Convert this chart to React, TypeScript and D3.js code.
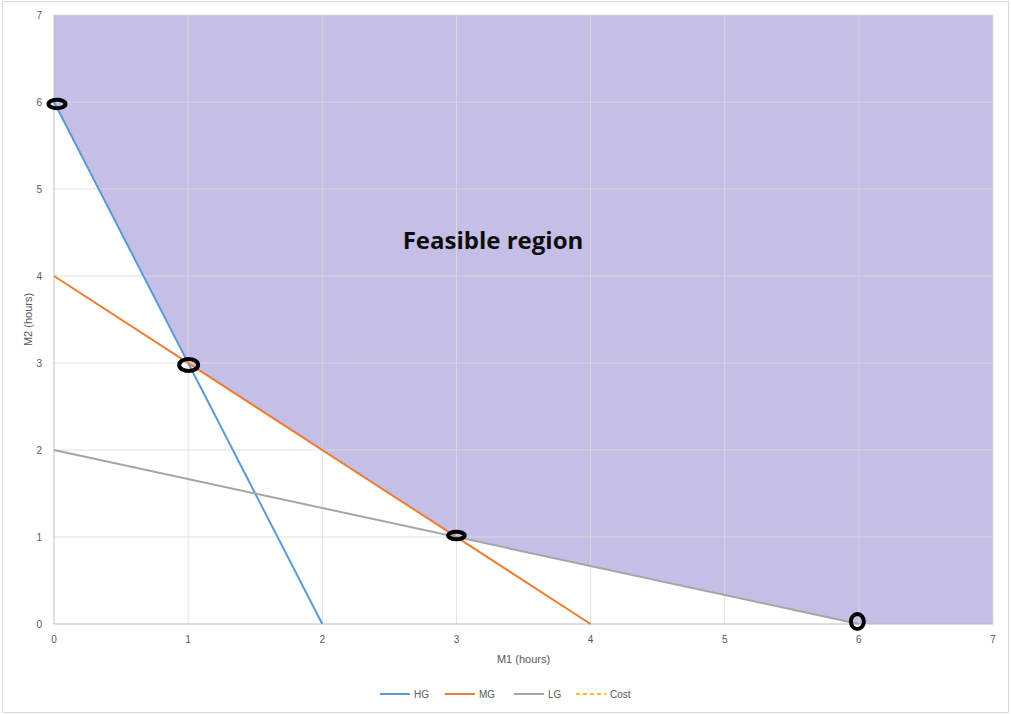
import React from "react";
import * as d3 from "d3";

// Constraint lines (M1 hours, M2 hours)
const hgLine: [number, number][] = [[0, 6], [2, 0]];
const mgLine: [number, number][] = [[0, 4], [4, 0]];
const lgLine: [number, number][] = [[0, 2], [6, 0]];
const costLine: [number, number][] = [];
// Boundary of the feasible region
const feasibleRegion: [number, number][] = [[0, 7], [0, 6], [1, 3], [3, 1], [6, 0], [7, 0], [7, 7]];
// Corner points of the feasible region
const cornerPoints: [number, number][] = [[0, 6], [1, 3], [3, 1], [6, 0]];
const xTicks = [0, 1, 2, 3, 4, 5, 6, 7];
const yTicks = [0, 1, 2, 3, 4, 5, 6, 7];

// Hand-drawn style marker shapes around each corner: [dx, dy, rx, ry]
const markerShapes: [number, number, number, number][] = [
  [3, 2, 8.5, 4.2],
  [0.5, 2, 9.5, 6],
  [0, -1.5, 8.3, 3.8],
  [-1.5, -2.5, 6.5, 7.5],
];

const series = [
  { name: "HG", data: hgLine, color: "#5b9bd5", dash: "" },
  { name: "MG", data: mgLine, color: "#ed7d31", dash: "" },
  { name: "LG", data: lgLine, color: "#a5a5a5", dash: "" },
  { name: "Cost", data: costLine, color: "#ffc000", dash: "4,3" },
];

export default function App() {
  const W = 1011, H = 714;
  const left = 54, right = 993, top = 15, bottom = 624;
  const x = d3.scaleLinear().domain([0, 7]).range([left, right]);
  const y = d3.scaleLinear().domain([0, 7]).range([bottom, top]);
  const line = d3.line<[number, number]>().x((d) => x(d[0])).y((d) => y(d[1]));
  const font = "'Liberation Sans', Arial, sans-serif";
  const legendX = [380, 445, 514, 576];

  return (
    <svg width={W} height={H} style={{ position: "absolute", left: 0, top: 0 }}>
      <rect x={0} y={0} width={W} height={H} fill="#fff" />
      <rect x={2.5} y={1.5} width={W - 5} height={H - 3} fill="none" stroke="#d9d9d9" />
      <path d={line(feasibleRegion) + "Z"} fill="#c5bee6" />
      {xTicks.slice(1).map((t) => (
        <line key={"gx" + t} x1={x(t)} x2={x(t)} y1={top} y2={bottom} stroke="#dcdcdc" strokeOpacity={0.85} />
      ))}
      {yTicks.slice(1).map((t) => (
        <line key={"gy" + t} x1={left} x2={right} y1={y(t)} y2={y(t)} stroke="#dcdcdc" strokeOpacity={0.85} />
      ))}
      <line x1={left} x2={right} y1={bottom} y2={bottom} stroke="#bfbfbf" />
      <line x1={left} x2={left} y1={top} y2={bottom} stroke="#bfbfbf" />
      {xTicks.map((t) => (
        <text key={"tx" + t} x={x(t)} y={bottom + 19} fontSize={10} fill="#595959" textAnchor="middle" fontFamily={font}>{t}</text>
      ))}
      {yTicks.map((t) => (
        <text key={"ty" + t} x={left - 12} y={y(t) + 3.5} fontSize={10} fill="#595959" textAnchor="end" fontFamily={font}>{t}</text>
      ))}
      {series.filter((s) => s.data.length).map((s) => (
        <path key={s.name} d={line(s.data) || ""} fill="none" stroke={s.color} strokeWidth={2} strokeDasharray={s.dash} />
      ))}
      {cornerPoints.map(([cx, cy], i) => {
        const [dx, dy, rx, ry] = markerShapes[i];
        return (
          <ellipse key={"c" + i} cx={x(cx) + dx} cy={y(cy) + dy} rx={rx} ry={ry} fill="none" stroke="#000" strokeWidth={4} />
        );
      })}
      <text x={493} y={249} fontSize={24} fontWeight="bold" fill="#0d0d0d" textAnchor="middle" fontFamily="'Open Sans', sans-serif">Feasible region</text>
      <text x={(left + right) / 2} y={663} fontSize={11} fill="#595959" textAnchor="middle" fontFamily={font}>M1 (hours)</text>
      <text transform={`translate(32,${(top + bottom) / 2}) rotate(-90)`} fontSize={11} fill="#595959" textAnchor="middle" fontFamily={font}>M2 (hours)</text>
      {series.map((s, i) => (
        <g key={"lg" + s.name}>
          <line x1={legendX[i]} x2={legendX[i] + 30} y1={694} y2={694} stroke={s.color} strokeWidth={2} strokeDasharray={s.dash} />
          <text x={legendX[i] + 34} y={698} fontSize={10} fill="#595959" fontFamily={font}>{s.name}</text>
        </g>
      ))}
    </svg>
  );
}
